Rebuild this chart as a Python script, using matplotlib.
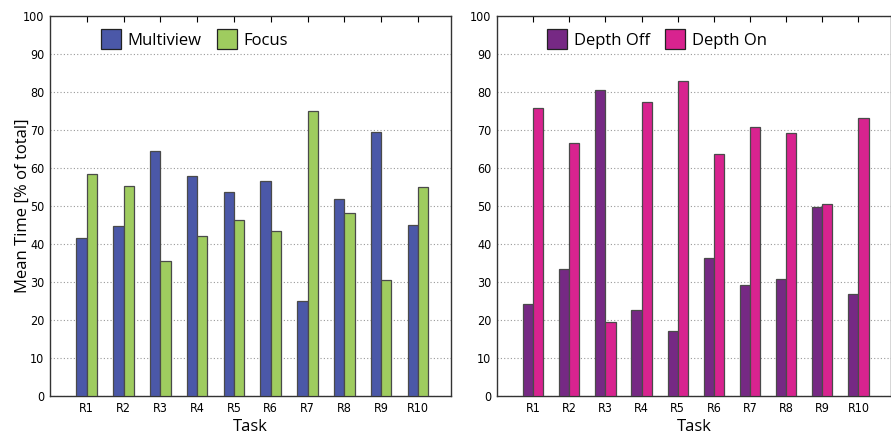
import matplotlib.pyplot as plt
import numpy as np

tasks = ['R1', 'R2', 'R3', 'R4', 'R5', 'R6', 'R7', 'R8', 'R9', 'R10']
multiview = [41.7, 44.8, 64.4, 57.8, 53.7, 56.6, 25.0, 51.8, 69.6, 45.1]
focus = [58.3, 55.2, 35.6, 42.2, 46.3, 43.4, 75.0, 48.2, 30.4, 54.9]
depth_off = [24.3, 33.3, 80.5, 22.6, 17.1, 36.4, 29.3, 30.9, 49.7, 26.9]
depth_on = [75.8, 66.7, 19.6, 77.5, 82.9, 63.8, 70.8, 69.1, 50.4, 73.2]

label_font = 'Open Sans'

fig = plt.figure(figsize=(8.91, 4.37), dpi=100)
ax1 = fig.add_axes([50 / 891, 41 / 437, 401 / 891, 380 / 437])
ax2 = fig.add_axes([497 / 891, 41 / 437, 394 / 891, 380 / 437])

x = np.arange(1, len(tasks) + 1)
w = 0.28

panels = [
    (ax1, multiview, focus, 'Multiview', 'Focus', '#4b58a8', '#9fcc5f'),
    (ax2, depth_off, depth_on, 'Depth Off', 'Depth On', '#762984', '#d8238f'),
]

for ax, a, b, la, lb, ca, cb in panels:
    ax.bar(x - w / 2, a, w, color=ca, edgecolor='#4a4a4a', linewidth=0.9, label=la, zorder=3)
    ax.bar(x + w / 2, b, w, color=cb, edgecolor='#4a4a4a', linewidth=0.9, label=lb, zorder=3)
    ax.set_xlim(0, 10.9)
    ax.set_ylim(0, 100)
    ax.set_xticks(x)
    ax.set_xticklabels(tasks, fontfamily='DejaVu Sans', fontstretch='condensed', fontsize=9)
    ax.set_yticks(np.arange(0, 101, 10))
    ax.set_yticklabels([str(v) for v in range(0, 101, 10)], fontfamily='DejaVu Sans',
                       fontstretch='condensed', fontsize=9)
    ax.tick_params(axis='both', direction='in', length=4, width=0.8, top=True, pad=4)
    ax.tick_params(axis='y', length=0)
    ax.grid(True, axis='y', linestyle=(0, (1, 2)), color='#999999', linewidth=0.8, zorder=0)
    for s in ax.spines.values():
        s.set_linewidth(1.0)
        s.set_color('#333333')
    ax.set_xlabel('Task', fontfamily=label_font, fontsize=12, labelpad=3)
    leg = ax.legend(loc='upper left', bbox_to_anchor=(0.09, 1.004), ncol=2, frameon=False,
                    prop={'family': label_font, 'size': 12}, handlelength=1.2, handleheight=1.4,
                    columnspacing=0.9, handletextpad=0.4)
    for h in leg.legend_handles:
        h.set_edgecolor('#222222')

ax1.set_ylabel('Mean Time [% of total]', fontfamily=label_font, fontsize=12)
ax1.yaxis.set_label_coords(-19 / 401, 0.5)

plt.savefig('out.png', dpi=100)
plt.close()
